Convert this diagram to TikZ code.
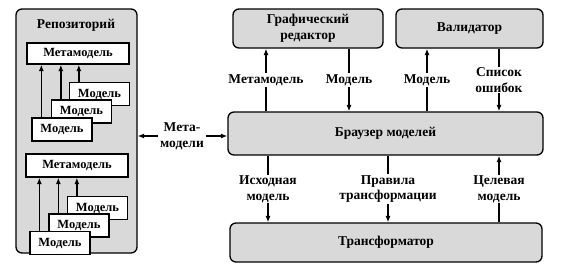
\documentclass[tikz,border=0pt]{standalone}
\usepackage{fontspec}
\setmainfont{Liberation Serif}
\usetikzlibrary{positioning, arrows.meta}
\definecolor{boxGray}{HTML}{D9D9D9}

\begin{document}
\begin{tikzpicture}[
  x=1pt, y=-1pt,
  font=\bfseries\fontsize{13.5}{15.5}\selectfont,
  unit/.style={
    draw,
    fill=boxGray,
    line width=1.3pt,
    rounded corners=6pt,
    align=center
  },
  store/.style={
    draw,
    fill=white,
    line width=1.3pt,
    minimum width=60pt,
    minimum height=23pt,
    inner sep=0pt,
    font=\bfseries\fontsize{12.5}{14}\selectfont
  },
  arrow/.style={
    -{Latex[length=2.3mm, width=1.8mm]},
    line width=1.3pt
  },
  lbl/.style={fill=white, align=center, inner sep=1pt}
]
\useasboundingbox (0,0) rectangle (561,276);

% repository
\node[unit, minimum width=121pt, minimum height=244pt] (repo) at (76.5,131) {};
\node (repoT) at (76,25) {Репозиторий};

\node[store, minimum width=102pt, minimum height=21pt] (mmA) at (78,53.5) {Метамодель};
\node[store] (mA3) at (99.5,94) {Модель};
\node[store] (mA2) at (81.5,111.5) {Модель};
\node[store] (mA1) at (62,129.5) {Модель};
\foreach \m in {mA1, mA2, mA3}
  \draw[arrow] ([xshift=10pt]\m.north west) -- ([xshift=10pt]\m.north west |- mmA.south);

\node[store, minimum width=102pt] (mmB) at (77,165.5) {Метамодель};
\node[store] (mB3) at (97.5,208) {Модель};
\node[store] (mB2) at (79,225.5) {Модель};
\node[store] (mB1) at (60,243) {Модель};
\foreach \m in {mB1, mB2, mB3}
  \draw[arrow] ([xshift=10pt]\m.north west) -- ([xshift=10pt]\m.north west |- mmB.south);

% tools
\node[unit, minimum width=315pt, minimum height=43pt] (browser) at (385.5,133.5) {Браузер моделей};
\node[unit, minimum width=150pt, minimum height=39pt] (editor) at (308,28.5) {Графический\\редактор};
\node[unit, minimum width=147pt, minimum height=39pt] (valid) at (469.5,28.5) {Валидатор};
\node[unit, minimum width=312pt, minimum height=39pt] (trans) at (386,242.5) {Трансформатор};

\node[align=center, inner sep=2pt] (meta) at (182,136) {Мета-\\модели};
\draw[arrow] (meta.west) -- (repo.east |- meta.west);
\draw[arrow] (meta.east) -- (browser.west |- meta.east);

\draw[arrow] (266,0 |- browser.north) -- node[lbl] {Метамодель} (266,0 |- editor.south);
\draw[arrow] (349,0 |- editor.south) -- node[lbl] {Модель} (349,0 |- browser.north);
\draw[arrow] (427,0 |- browser.north) -- node[lbl] {Модель} (427,0 |- valid.south);
\draw[arrow] (499,0 |- valid.south) -- node[lbl] {Список\\ошибок} (499,0 |- browser.north);

\draw[arrow] (268,0 |- browser.south) -- node[lbl] {Исходная\\модель} (268,0 |- trans.north);
\draw[arrow] (388,0 |- browser.south) -- node[lbl] {Правила\\трансформации} (388,0 |- trans.north);
\draw[arrow] (499,0 |- trans.north) -- node[lbl] {Целевая\\модель} (499,0 |- browser.south);

\end{tikzpicture}
\end{document}
